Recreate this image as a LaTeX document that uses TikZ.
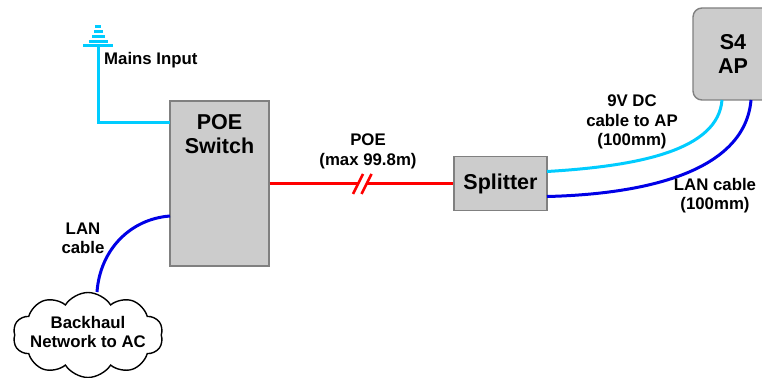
\documentclass[tikz,border=0pt]{standalone}
\usepackage{fontspec}
\setmainfont{Liberation Sans}
\usetikzlibrary{shapes.symbols}
\definecolor{boxgray}{HTML}{CCCCCC}
\definecolor{boxline}{HTML}{808080}
\definecolor{dccyan}{HTML}{00CCFF}
\definecolor{lanblue}{HTML}{0000E6}
\tikzset{
    dev/.style={draw=boxline,fill=boxgray,line width=1.4pt,inner sep=0pt,align=center,
        font=\fontsize{21.5}{24}\selectfont\bfseries},
    lbl/.style={align=center,inner sep=0pt,font=\fontsize{16.8}{19.4}\selectfont\bfseries},
    wire/.style={line width=3pt}
}
\begin{document}
\begin{tikzpicture}[x=1pt,y=-1pt]
                \useasboundingbox (0,0) rectangle (762,377);
                \clip (0,0) rectangle (762,377);
                % boxes
                \node[dev,minimum width=99pt,minimum height=165pt] (sw) at (219.5,183.5) {};
                \node[lbl,font=\fontsize{21.5}{24}\selectfont\bfseries] (swtext) at (219.5,134) {POE\\Switch};
                \node[dev,minimum width=93pt,minimum height=54.5pt] (spl) at (500.5,183.5) {Splitter};
                \node[dev,rounded corners=9pt,minimum width=80pt,minimum height=92pt] (ap) at (733,54) {S4\\AP};
                \node[cloud,draw=black,fill=white,line width=1.4pt,cloud puffs=10,cloud puff arc=115,aspect=1.75,
                    inner sep=0pt,minimum width=150pt,minimum height=85pt] (cld) at (88,335) {};
                \node[lbl] (cldtext) at (88,332) {Backhaul\\Network to AC};
                % ends of the wires
                \coordinate (ant) at (98,46);
                \coordinate (corner) at (98,122);
                \coordinate (swmains) at (170,122);
                \coordinate (swlan) at (170,216);
                \coordinate (cldlan) at (97,292);
                \coordinate (cut1) at (358,183.5);
                \coordinate (cut2) at (367,183.5);
                \coordinate (spldc) at (547,171.5);
                \coordinate (spllan) at (547,196.5);
                \coordinate (apdc) at (722,100);
                \coordinate (aplan) at (751,100);
                \begin{scope}[every path/.style={wire}]
                \draw[dccyan] (ant) -- (corner) -- (swmains);
                \draw[lanblue] (cldlan) .. controls (100,250) and (130,219) .. (swlan);
                \draw[red] (sw.east) -- (cut1);
                \draw[red] (cut2) -- (spl.west);
                \draw[dccyan] (spldc) .. controls (640,166) and (718,150) .. (apdc);
                \draw[lanblue] (spllan) .. controls (650,194) and (745,170) .. (aplan);
                \end{scope}
                % antenna bars
                \foreach \yy/\ww in {27/6.5,32/9,37/13,41.5/19,46/30}
                    \fill[dccyan] (98-\ww/2,\yy-1.5) rectangle (98+\ww/2,\yy+1.5);
                % break marks
                \draw[red,line width=2.5pt] (353,194) -- (363,174);
                \draw[red,line width=2.5pt] (361.5,194) -- (371.5,174);
                % labels
                \node[lbl,anchor=west] (mains) at (104,60) {Mains Input};
                \node[lbl] (lanleft) at (83,238.5) {LAN\\cable};
                \node[lbl] (poe) at (368,151.5) {POE\\(max 99.8m)};
                \node[lbl] (dc) at (632,122) {9V DC\\cable to AP\\(100mm)};
                \node[lbl] (lanright) at (715,195.5) {LAN cable\\(100mm)};
\end{tikzpicture}
\end{document}
